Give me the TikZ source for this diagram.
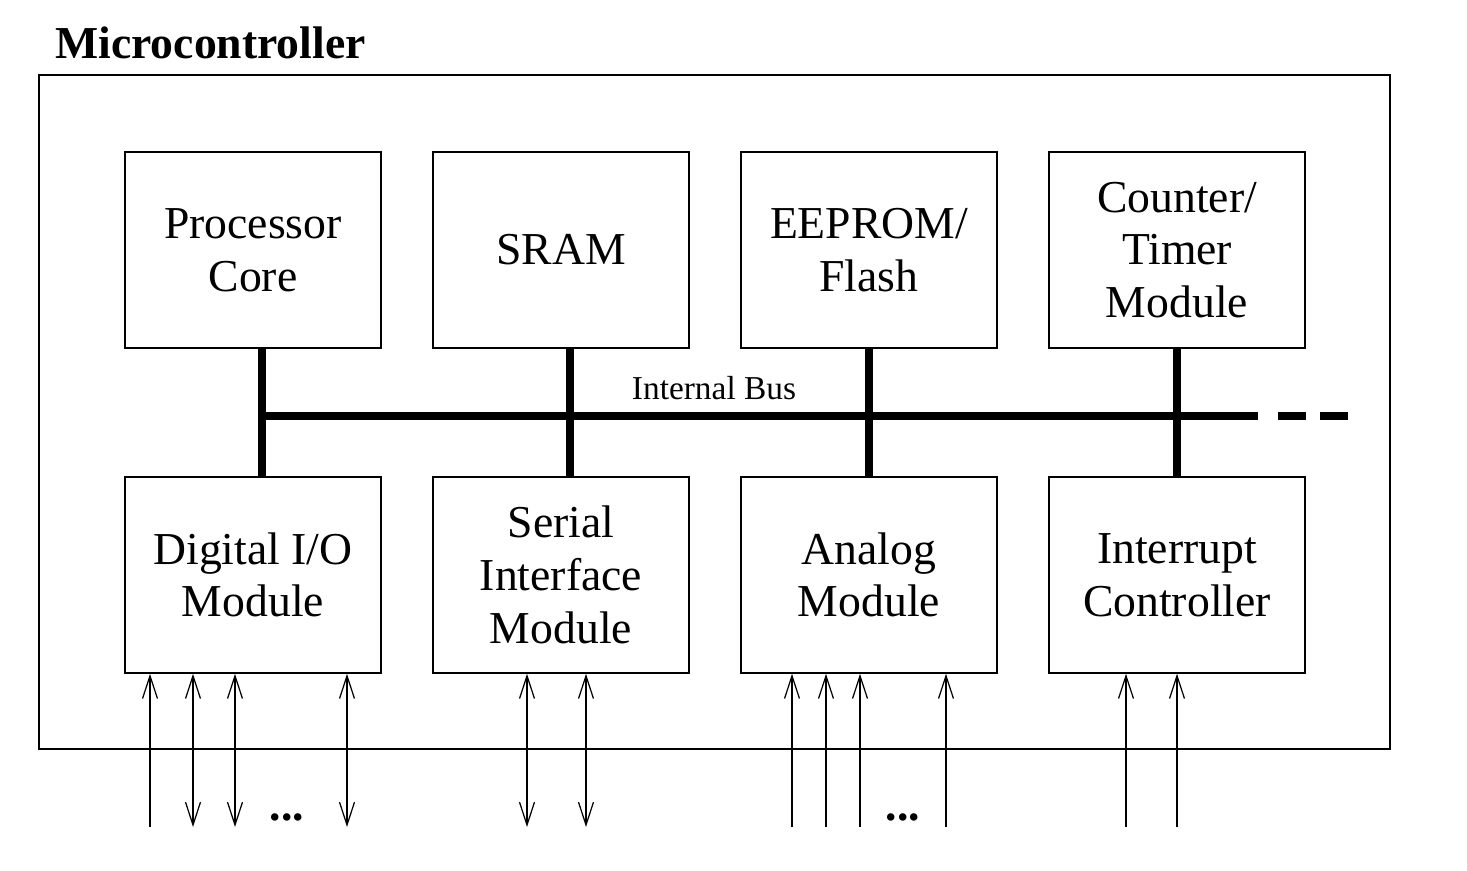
\documentclass[tikz,border=0pt]{standalone}
\usepackage{fontspec}
\setmainfont{Liberation Serif}
\usetikzlibrary{arrows.meta}

\tikzstyle{module} = [draw,line width=0.85pt,minimum width=5.12cm,minimum height=3.92cm,inner sep=0pt,align=center,font=\fontsize{26}{30}\selectfont]
\tikzstyle{chip} = [draw,line width=0.85pt,minimum width=27.02cm,minimum height=13.48cm,inner sep=0pt]
\tikzstyle{heading} = [inner sep=0pt,font=\bfseries\fontsize{26}{30}\selectfont]
\tikzstyle{buslabel} = [inner sep=0pt,font=\fontsize{19}{22}\selectfont]
\tikzstyle{busline} = [draw,line width=4.5pt]
\tikzstyle{busdash} = [draw,line width=4.5pt,dash pattern=on 15.9pt off 7.9pt]
\tikzstyle{pin} = [draw,line width=0.7pt,>={Straight Barb[length=13pt,width=8.5pt]}]
\tikzstyle{dots} = [inner sep=0pt,font=\bfseries\fontsize{26}{30}\selectfont]

\begin{document}
\begin{tikzpicture}[x=0.02cm,y=-0.02cm]
      \useasboundingbox (0,0) rectangle (1467,870);
      % chip outline and title
      \node[chip] (chip) at (714.5,412) {};
      \node[heading, anchor=base west] (title) at (55,58) {Microcontroller};
      % modules
      \foreach \nodename/\x/\y/\label in {
        core/253/250/{Processor\\Core},
        sram/561/250/{SRAM},
        flash/869/250/{EEPROM/\\Flash},
        timer/1177/250/{Counter/\\Timer\\Module},
        dio/253/575/{Digital I/O\\Module},
        serial/561/575/{Serial\\Interface\\Module},
        analog/869/575/{Analog\\Module},
        irq/1177/575/{Interrupt\\Controller}}
      {
        \node[module] (\nodename) at (\x,\y) {\label};
      };
      % internal bus
      \coordinate (busL) at (258,416);
      \coordinate (busR) at (1258,416);
      \coordinate (dashL) at (1278,416);
      \coordinate (dashR) at (1348,416);
      \path[busline] (busL) -- (busR);
      \path[busdash] (dashL) -- (dashR);
      \node[buslabel, anchor=base] (buslabel) at (714,399) {Internal Bus};
      \foreach \upper/\lower/\x in {core/dio/262, sram/serial/570, flash/analog/869, timer/irq/1177}
      {
        \coordinate (tap\upper) at (\x,416);
        \path[busline] (tap\upper |- \upper.south) -- (tap\upper |- \lower.north);
      };
      %pins
      \foreach \x/\tip/\module in {
        150/->/dio, 193/<->/dio, 235/<->/dio, 347/<->/dio,
        527/<->/serial, 586/<->/serial,
        792/->/analog, 826/->/analog, 860/->/analog, 946/->/analog,
        1126/->/irq, 1177/->/irq}
      {
        \coordinate (pin\x) at (\x,827);
        \path[pin,\tip] (pin\x) -- (pin\x |- \module.south);
      };
      \node[dots, anchor=base] (dotsA) at (287,820) {...};
      \node[dots, anchor=base] (dotsB) at (903,820) {...};
\end{tikzpicture}
\end{document}
